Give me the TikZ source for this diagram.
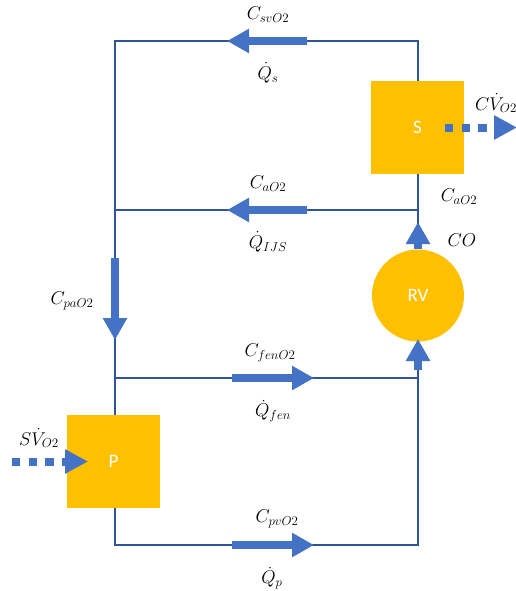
\RequirePackage{fix-cm}
\documentclass[tikz,border=0pt]{standalone}
\usepackage{fontspec}
\newfontfamily\calib{Carlito}
\usetikzlibrary{arrows.meta}
\definecolor{wire}{HTML}{2F5597}
\definecolor{flow}{HTML}{4472C4}
\definecolor{gold}{HTML}{FFC000}
\tikzset{
  wireline/.style={draw=wire, line width=2.6pt},
  flowarrow/.style={draw=flow, line width=8pt, -{Triangle[length=22pt,width=23pt]}},
  dotarrow/.style={draw=flow, line width=8pt, dash pattern=on 8.3pt off 8.3pt, -{Triangle[length=23pt,width=23pt]}},
  organ/.style={fill=gold, draw=none, minimum width=93pt, minimum height=93pt, inner sep=0pt, text=white, font=\calib\fontsize{19}{22}\selectfont},
  lbl/.style={font=\fontsize{18.5}{21}\selectfont, inner sep=0pt}
}
\begin{document}
\begin{tikzpicture}[x=1pt,y=-1pt]
\useasboundingbox (0,0) rectangle (516,591);
% corners
\coordinate (TL) at (115,41);
\coordinate (TR) at (418,41);
\coordinate (ML) at (115,210);
\coordinate (MR) at (418,210);
\coordinate (FL) at (115,378);
\coordinate (FR) at (418,378);
\coordinate (BL) at (115,545);
\coordinate (BR) at (418,545);
% wires
\draw[wireline] (MR) -- (TR) -- (TL) -- (BL) -- (BR) -- (FR) -- (418,369);
\draw[wireline] (ML) -- (MR) -- (418,240);
\draw[wireline] (FL) -- (FR);
% organs
\node[organ] (S) at (417.5,127.5) {S};
\node[organ, circle, minimum size=92pt] (RV) at (418,295.5) {RV};
\node[organ] (P) at (113.5,461.5) {P};
% flow arrows
\coordinate (a1s) at (307,41); \coordinate (a1e) at (227,41);
\coordinate (a2s) at (307,210); \coordinate (a2e) at (227,210);
\coordinate (a3s) at (115,258); \coordinate (a3e) at (115,340);
\coordinate (a4s) at (232,378); \coordinate (a4e) at (314,378);
\coordinate (a5s) at (232,545); \coordinate (a5e) at (314,545);
\coordinate (a7s) at (418,370); \coordinate (a7e) at (418,339);
\draw[flowarrow] (a1s) -- (a1e);
\draw[flowarrow] (a2s) -- (a2e);
\draw[flowarrow] (a3s) -- (a3e);
\draw[flowarrow] (a4s) -- (a4e);
\draw[flowarrow] (a5s) -- (a5e);
\coordinate (a6e) at (418,222);
\draw[flowarrow] (RV.north) -- (a6e);
\draw[flowarrow] (a7s) -- (a7e);
% dotted arrows
\coordinate (d1e) at (517,127.5);
\draw[dotarrow] (445,127.5) -- (d1e);
\coordinate (d2s) at (12,461.5);
\draw[dotarrow] (d2s) -- (88,461.5);
% labels
\node[lbl] at (268,15) {$C_{svO2}$};
\node[lbl] at (268,73) {$\dot{Q}_{s}$};
\node[lbl] at (268,184) {$C_{aO2}$};
\node[lbl] at (268,242) {$\dot{Q}_{IJS}$};
\node[lbl] at (459,197) {$C_{aO2}$};
\node[lbl] at (462,240) {$CO$};
\node[lbl] at (496,103) {$C\dot{V}_{O2}$};
\node[lbl] at (72,301) {$C_{paO2}$};
\node[lbl] at (270,353) {$C_{fenO2}$};
\node[lbl] at (273,411) {$\dot{Q}_{fen}$};
\node[lbl] at (39,438) {$S\dot{V}_{O2}$};
\node[lbl] at (277,519) {$C_{pvO2}$};
\node[lbl] at (272,578) {$\dot{Q}_{p}$};
\end{tikzpicture}
\end{document}
